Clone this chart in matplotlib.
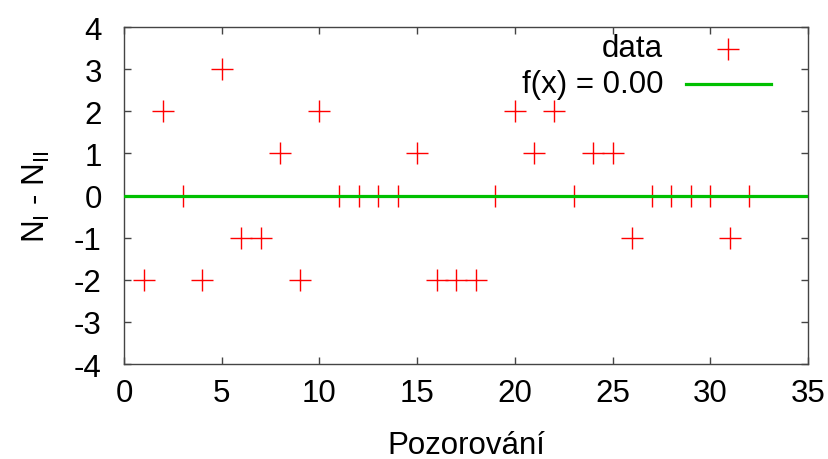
import matplotlib
matplotlib.use("Agg")
import matplotlib.pyplot as plt

obs = list(range(1, 33))
diff = [-2, 2, 0, -2, 3, -1, -1, 1, -2, 2,
        0, 0, 0, 0, 1, -2, -2, -2, 0, 2,
        1, 2, 0, 1, 1, -1, 0, 0, 0, 0,
        -1, 0]
fit_value = 0.00
x_ticks = [0, 5, 10, 15, 20, 25, 30, 35]
y_ticks = [-4, -3, -2, -1, 0, 1, 2, 3, 4]

plt.rcParams['font.family'] = ['Liberation Sans', 'DejaVu Sans']
plt.rcParams['mathtext.fontset'] = 'custom'
plt.rcParams['mathtext.rm'] = 'Liberation Sans'
plt.rcParams['axes.unicode_minus'] = False

FS = 22.5

fig = plt.figure(figsize=(8.29, 4.6), dpi=100)
ax = fig.add_subplot(111)
fig.subplots_adjust(left=0.1496, right=0.9747, top=0.939, bottom=0.2065)

ax.plot(obs, diff, '+', color='red', ms=16, mew=1.0, zorder=2)
ax.axhline(fit_value, color='#00c000', lw=2.3, zorder=3)

ax.set_xlim(0, 35)
ax.set_ylim(-4, 4)
ax.set_xticks(x_ticks)
ax.set_yticks(y_ticks)
ax.tick_params(direction='in', top=True, right=True, length=5, width=1,
               color='#444444', labelsize=FS)
ax.tick_params(axis='y', pad=16)
ax.tick_params(axis='x', pad=10)
for s in ax.spines.values():
    s.set_color('#444444')
    s.set_linewidth(1)

ax.set_xlabel('Pozorování', fontsize=FS, labelpad=16)
ax.set_ylabel(r'N$_\mathrm{I}$ - N$_\mathrm{II}$', fontsize=FS, labelpad=16)

# gnuplot-style legend: labels right-aligned, sample on the right
ax.text(0.788, 0.914, 'data', transform=ax.transAxes, ha='right', va='baseline', fontsize=FS)
ax.plot([0.883], [0.935], '+', color='red', ms=16, mew=1.0, transform=ax.transAxes)
ax.text(0.788, 0.807, f'f(x) = {fit_value:.2f}', transform=ax.transAxes,
        ha='right', va='baseline', fontsize=FS)
ax.plot([0.822, 0.946], [0.831, 0.831], color='#00c000', lw=2.3, transform=ax.transAxes)

fig.savefig('out.png', dpi=100)
